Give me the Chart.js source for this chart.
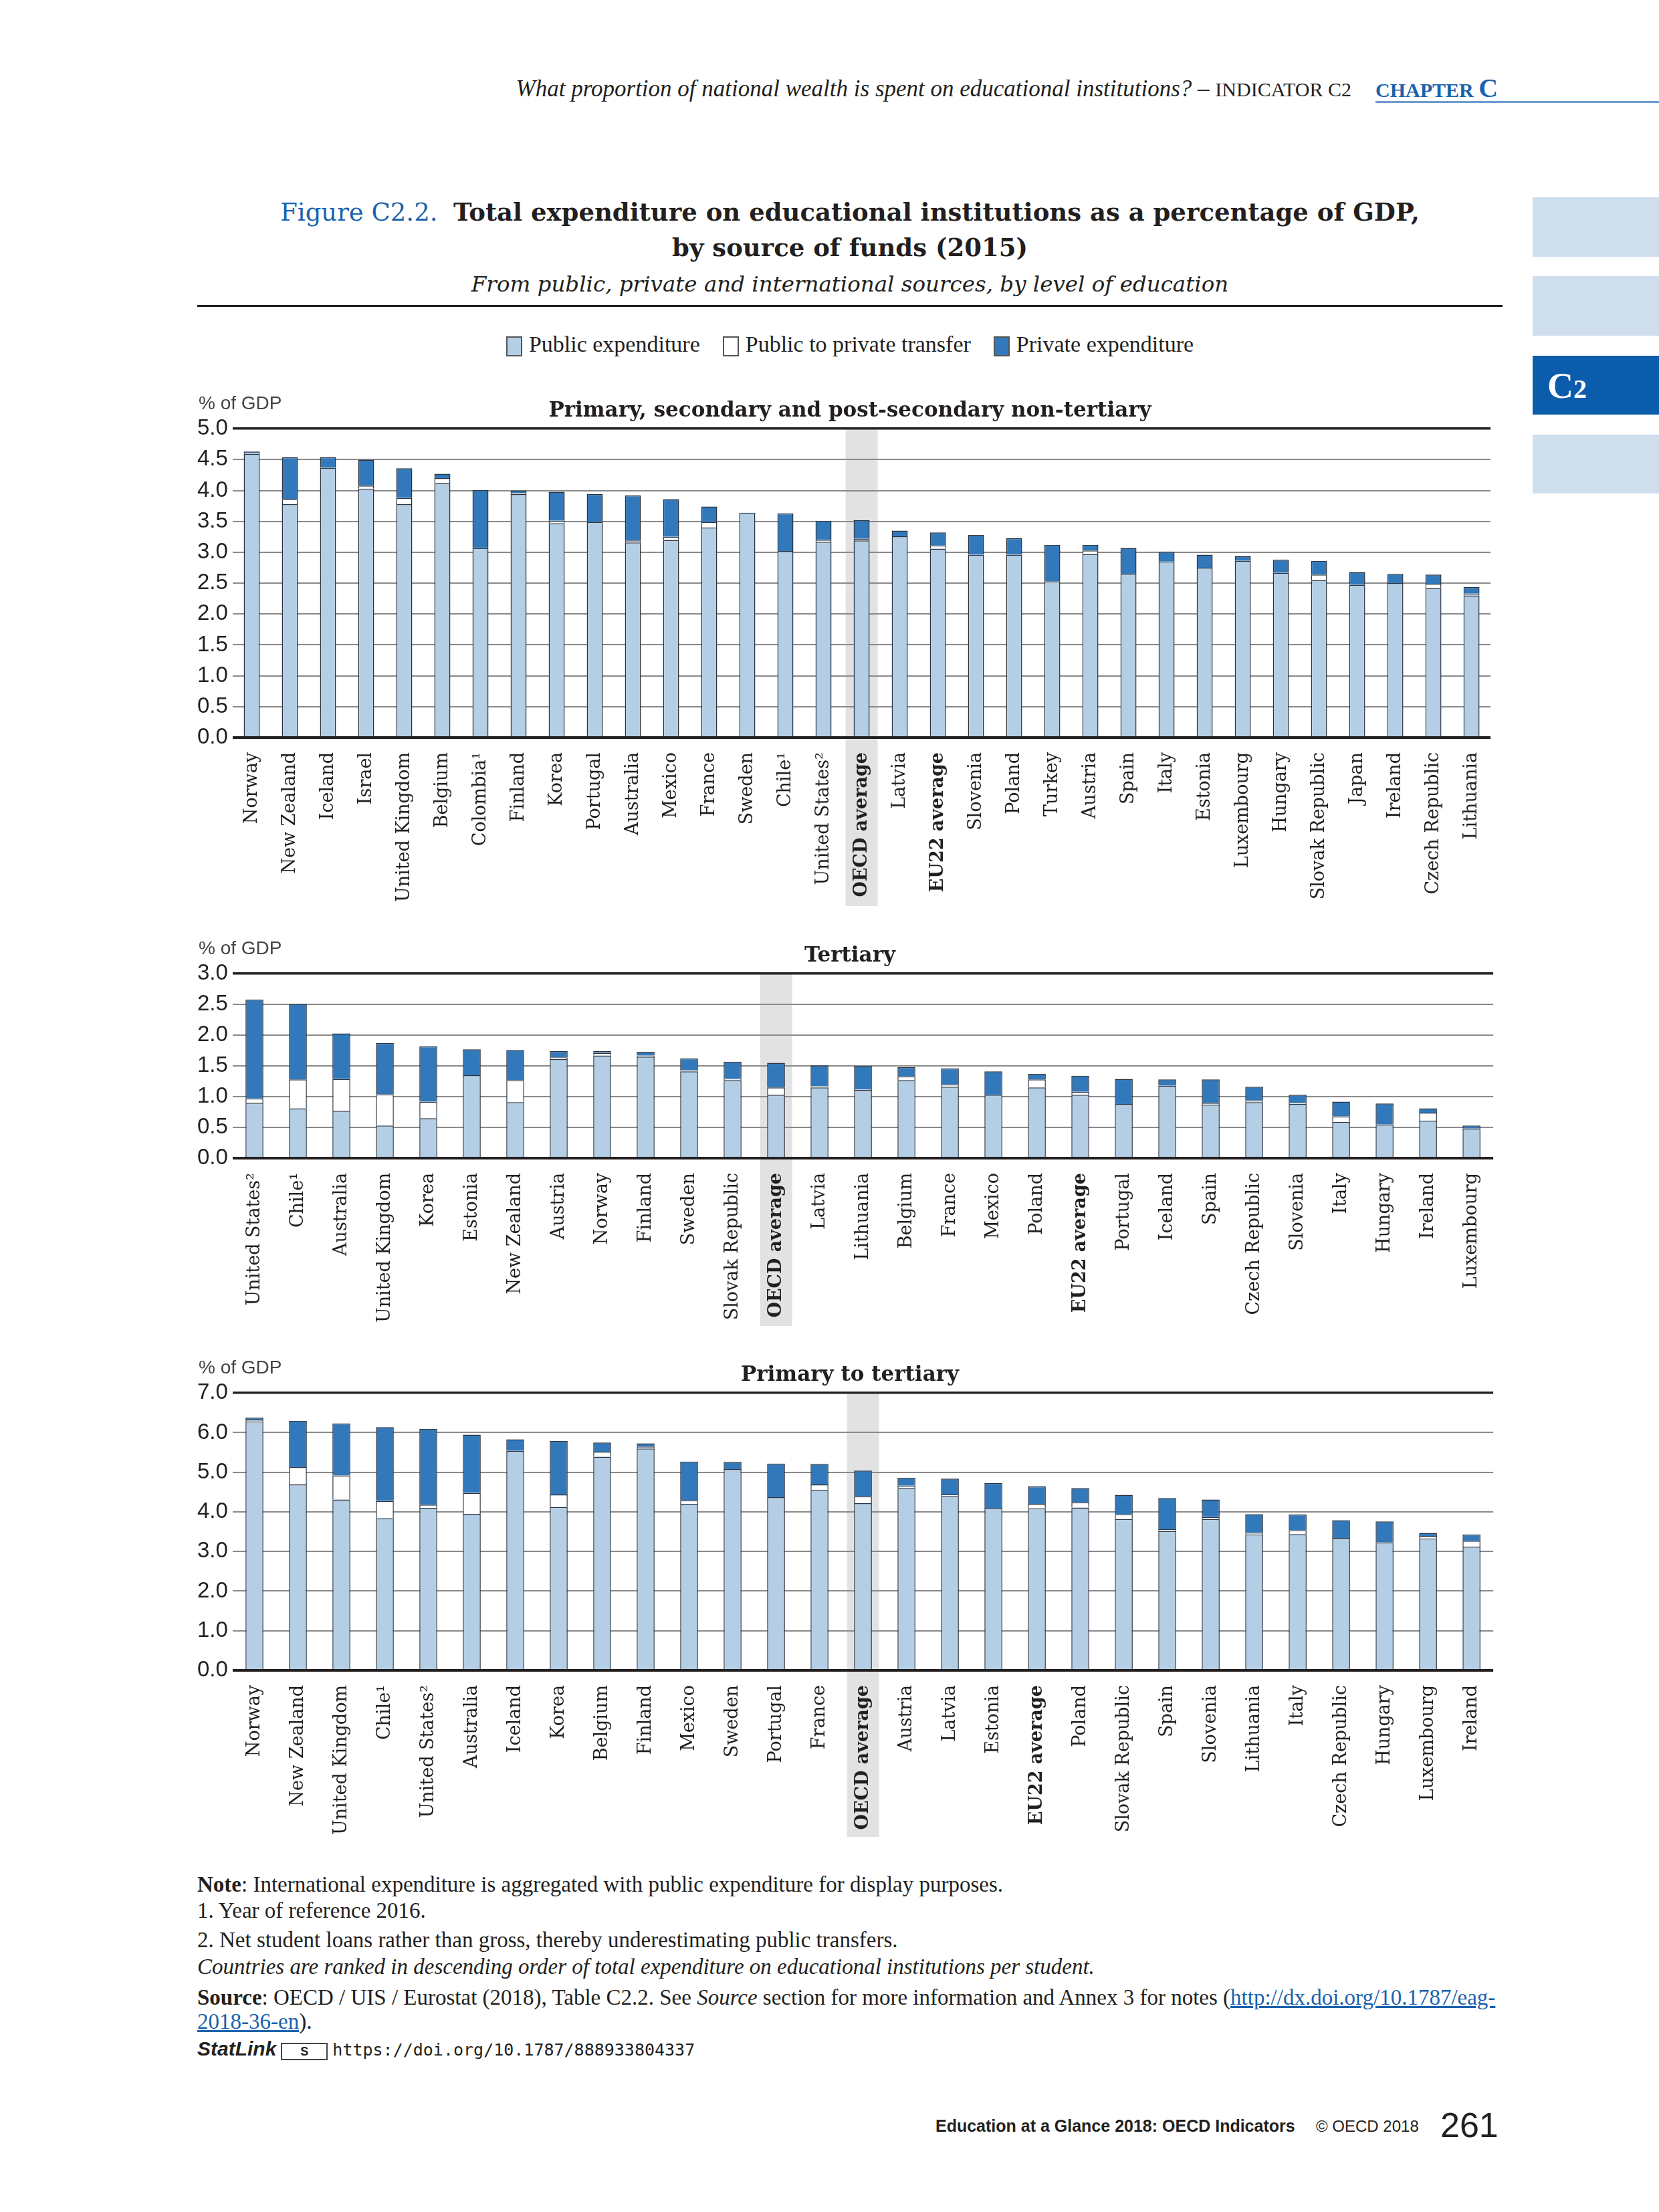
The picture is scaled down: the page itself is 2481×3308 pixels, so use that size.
<!DOCTYPE html>
<html>
<head>
<meta charset="utf-8">
<script src="https://cdn.jsdelivr.net/npm/chart.js@4.4.1/dist/chart.umd.min.js"></script>
<style>
  body { margin: 0; width: 2481px; height: 3308px; position: relative; background: #fff; color: #231f20; font-family: 'Liberation Serif', serif; overflow: hidden; }
  .abs { position: absolute; }
  .tab { position: absolute; left: 2292px; width: 189px; background: #cfdeed; }
  .chartBox { position: absolute; left: 295px; width: 1952px; }
  .note { position: absolute; left: 295px; font-size: 33px; line-height: 36px; white-space: nowrap; }
  .sw { display: inline-block; width: 20px; height: 26px; border: 2px solid #555; vertical-align: middle; margin-right: 10px; }
</style>
</head>
<body>

<!-- page header -->
<div class="abs" style="right:460px; top:113px; font-size:35px; white-space:nowrap;">
  <i>What proportion of national wealth is spent on educational institutions?</i> – <span style="font-size:30px;">INDICATOR C2</span>
</div>
<div class="abs" style="left:2057px; top:108px; font-size:30px; font-weight:bold; color:#1a62ad; white-space:nowrap;">CHAPTER <span style="font-size:40px;">C</span></div>
<div class="abs" style="left:2057px; top:151px; width:424px; height:3px; background:#6f9dcf;"></div>

<!-- side tabs -->
<div class="tab" style="top:295px; height:89px;"></div>
<div class="tab" style="top:413px; height:89px;"></div>
<div class="tab" style="top:532px; height:88px; background:#0b5cab;">
  <span class="abs" style="left:22px; top:14px; color:#fff; font-weight:bold; font-size:54px;">C<span style="font-size:40px;">2</span></span>
</div>
<div class="tab" style="top:650px; height:88px;"></div>

<!-- figure title -->
<div class="abs" style="left:295px; width:1952px; top:291px; text-align:center; font-family:'DejaVu Serif', serif; font-size:37px; line-height:53px; white-space:nowrap;">
  <span style="color:#1a62ad;">Figure C2.2.</span>&nbsp; <b>Total expenditure on educational institutions as a percentage of GDP,</b><br>
  <b>by source of funds (2015)</b>
</div>
<div class="abs" style="left:295px; width:1952px; top:406px; text-align:center; font-family:'DejaVu Serif', serif; font-size:32.5px; font-style:italic;">From public, private and international sources, by level of education</div>
<div class="abs" style="left:295px; top:456px; width:1952px; height:3px; background:#231f20;"></div>

<!-- legend -->
<div class="abs" style="left:295px; width:1952px; top:496px; text-align:center; font-size:34px; white-space:nowrap;">
  <span class="sw" style="background:#b4cfe5;"></span>Public expenditure&nbsp;&nbsp;&nbsp;
  <span class="sw" style="background:#fff;"></span>Public to private transfer&nbsp;&nbsp;&nbsp;
  <span class="sw" style="background:#3279bb;"></span>Private expenditure
</div>

<div class="chartBox" style="top:590px; height:765px;"><canvas id="chart1"></canvas></div>
<div class="chartBox" style="top:1405px; height:578px;"><canvas id="chart2"></canvas></div>
<div class="chartBox" style="top:2032px; height:715px;"><canvas id="chart3"></canvas></div>

<!-- notes -->
<div class="note" style="top:2800px;"><b>Note</b>: International expenditure is aggregated with public expenditure for display purposes.</div>
<div class="note" style="top:2839px;">1. Year of reference 2016.</div>
<div class="note" style="top:2883px;">2. Net student loans rather than gross, thereby underestimating public transfers.</div>
<div class="note" style="top:2923px; font-style:italic;">Countries are ranked in descending order of total expenditure on educational institutions per student.</div>
<div class="note" style="top:2969px;"><b>Source</b>: OECD / UIS / Eurostat (2018), Table C2.2. See <i>Source</i> section for more information and Annex 3 for notes (<span style="color:#1a62ad; text-decoration:underline;">http://dx.doi.org/10.1787/eag-</span></div>
<div class="note" style="top:3005px;"><span style="color:#1a62ad; text-decoration:underline;">2018-36-en</span>).</div>
<div class="note" style="top:3046px; font-size:28px;"><b style="font-family:'Liberation Sans',sans-serif; font-style:italic; font-size:30px;">StatLink</b>
  <span style="display:inline-block; width:66px; height:22px; border:2px solid #444; font:bold 18px 'Liberation Sans',sans-serif; text-align:center; line-height:22px; vertical-align:middle;">S</span>
  <span style="font-family:'DejaVu Sans Mono',monospace; font-size:25px;">https://doi.org/10.1787/888933804337</span></div>

<!-- page footer -->
<div class="abs" style="left:1399px; top:3165px; font-family:'Liberation Sans',sans-serif; font-weight:bold; font-size:25px; white-space:nowrap;">Education at a Glance 2018: OECD Indicators</div>
<div class="abs" style="left:1968px; top:3166px; font-family:'Liberation Sans',sans-serif; font-size:24px; white-space:nowrap;">© OECD 2018</div>
<div class="abs" style="left:2154px; top:3148px; font-family:'Liberation Sans',sans-serif; font-size:52px; white-space:nowrap;">261</div>

<script>
// Primary, secondary and post-secondary non-tertiary
const c1Labels = ['Norway', 'New Zealand', 'Iceland', 'Israel', 'United Kingdom', 'Belgium', 'Colombia¹', 'Finland', 'Korea', 'Portugal',
    'Australia', 'Mexico', 'France', 'Sweden', 'Chile¹', 'United States²', 'OECD average', 'Latvia', 'EU22 average', 'Slovenia',
    'Poland', 'Turkey', 'Austria', 'Spain', 'Italy', 'Estonia', 'Luxembourg', 'Hungary', 'Slovak Republic', 'Japan',
    'Ireland', 'Czech Republic', 'Lithuania'];
const c1Public = [4.59, 3.78, 4.37, 4.03, 3.78, 4.12, 3.07, 3.94, 3.47, 3.49, 3.16, 3.20, 3.40, 3.64, 3.02, 3.17, 3.19, 3.26, 3.06, 2.96,
    2.96, 2.53, 2.97, 2.65, 2.85, 2.75, 2.86, 2.67, 2.55, 2.47, 2.50, 2.42, 2.30];
const c1Transfer = [0.01, 0.08, 0, 0.05, 0.10, 0.08, 0, 0.02, 0.04, 0, 0.03, 0.05, 0.09, 0, 0, 0.03, 0.03, 0, 0.05, 0,
    0, 0, 0.06, 0, 0, 0, 0, 0, 0.09, 0, 0, 0.07, 0.03];
const c1Private = [0.03, 0.68, 0.17, 0.42, 0.48, 0.07, 0.94, 0.04, 0.47, 0.45, 0.73, 0.61, 0.25, 0, 0.61, 0.31, 0.30, 0.09, 0.21, 0.32,
    0.27, 0.59, 0.09, 0.42, 0.16, 0.21, 0.08, 0.21, 0.22, 0.21, 0.15, 0.15, 0.11];

// Tertiary
const c2Labels = ['United States²', 'Chile¹', 'Australia', 'United Kingdom', 'Korea', 'Estonia', 'New Zealand', 'Austria', 'Norway', 'Finland',
    'Sweden', 'Slovak Republic', 'OECD average', 'Latvia', 'Lithuania', 'Belgium', 'France', 'Mexico', 'Poland', 'EU22 average',
    'Portugal', 'Iceland', 'Spain', 'Czech Republic', 'Slovenia', 'Italy', 'Hungary', 'Ireland', 'Luxembourg'];
const c2Public = [0.90, 0.81, 0.77, 0.53, 0.65, 1.35, 0.91, 1.61, 1.67, 1.65, 1.41, 1.27, 1.03, 1.15, 1.11, 1.27, 1.16, 1.03, 1.15, 1.03,
    0.88, 1.18, 0.87, 0.91, 0.88, 0.59, 0.55, 0.61, 0.48];
const c2Transfer = [0.07, 0.47, 0.52, 0.51, 0.27, 0, 0.36, 0.03, 0.04, 0.02, 0.02, 0.02, 0.12, 0.02, 0.01, 0.06, 0.04, 0, 0.13, 0.05,
    0, 0, 0.03, 0.03, 0.02, 0.09, 0, 0.13, 0];
const c2Private = [1.61, 1.23, 0.74, 0.83, 0.90, 0.42, 0.49, 0.10, 0.03, 0.06, 0.19, 0.28, 0.40, 0.34, 0.38, 0.15, 0.26, 0.38, 0.09, 0.26,
    0.41, 0.10, 0.38, 0.22, 0.13, 0.24, 0.34, 0.07, 0.05];

// Primary to tertiary
const c3Labels = ['Norway', 'New Zealand', 'United Kingdom', 'Chile¹', 'United States²', 'Australia', 'Iceland', 'Korea', 'Belgium', 'Finland',
    'Mexico', 'Sweden', 'Portugal', 'France', 'OECD average', 'Austria', 'Latvia', 'Estonia', 'EU22 average', 'Poland',
    'Slovak Republic', 'Spain', 'Slovenia', 'Lithuania', 'Italy', 'Czech Republic', 'Hungary', 'Luxembourg', 'Ireland'];
const c3Public = [6.28, 4.69, 4.31, 3.84, 4.10, 3.95, 5.54, 4.12, 5.39, 5.60, 4.20, 5.08, 4.37, 4.56, 4.22, 4.60, 4.40, 4.10, 4.09, 4.11,
    3.82, 3.52, 3.82, 3.43, 3.44, 3.34, 3.23, 3.33, 3.12];
const c3Transfer = [0.05, 0.44, 0.61, 0.44, 0.08, 0.53, 0, 0.32, 0.13, 0.05, 0.09, 0, 0, 0.13, 0.17, 0.06, 0.04, 0, 0.11, 0.13,
    0.12, 0.04, 0.05, 0.04, 0.10, 0, 0, 0.06, 0.15];
const c3Private = [0.05, 1.17, 1.31, 1.86, 1.91, 1.47, 0.29, 1.35, 0.23, 0.08, 0.98, 0.18, 0.85, 0.52, 0.65, 0.20, 0.40, 0.63, 0.44, 0.36,
    0.49, 0.79, 0.44, 0.47, 0.39, 0.45, 0.53, 0.08, 0.16];

// y axis ranges
const c1Axis = [0, 5, 0.5];
const c2Axis = [0, 3, 0.5];
const c3Axis = [0, 7, 1];

const serif = "'DejaVu Serif', serif";
const narrow = "'Liberation Sans Narrow', 'Liberation Sans', sans-serif";

// "% of GDP" above the axis
const unitLabel = {
    id: 'unitLabel',
    afterDraw(chart) {
        const ctx = chart.ctx;
        ctx.save();
        ctx.font = '28px ' + narrow;
        ctx.fillStyle = '#444';
        ctx.textBaseline = 'middle';
        ctx.fillText('% of GDP', 2, chart.chartArea.top - 37);
        ctx.restore();
    }
};

// grey band behind the OECD average + dark zero line
const oecdShade = {
    id: 'oecdShade',
    beforeDraw(chart) {
        const idx = chart.data.labels.indexOf('OECD average');
        const cx = chart.scales.x.getPixelForValue(idx);
        const ctx = chart.ctx;
        ctx.save();
        ctx.fillStyle = '#e2e2e2';
        ctx.fillRect(cx - 24, chart.chartArea.top, 48, chart.height - chart.chartArea.top);
        ctx.restore();
    },
    afterDatasetsDraw(chart) {
        const y = chart.scales.y.getPixelForValue(0);
        const ctx = chart.ctx;
        ctx.save();
        ctx.strokeStyle = '#231f20';
        ctx.lineWidth = 4;
        ctx.beginPath();
        ctx.moveTo(chart.chartArea.left, y);
        ctx.lineTo(chart.chartArea.right, y);
        ctx.stroke();
        ctx.restore();
    }
};

function drawChart(id, title, labels, pub, transfer, priv, axis, barPct, labelHeight) {
    const seg = { borderColor: '#2a3440', borderWidth: 1.5, barPercentage: barPct, categoryPercentage: 1 };
    new Chart(document.getElementById(id), {
        type: 'bar',
        data: {
            labels: labels,
            datasets: [
                Object.assign({ label: 'Public expenditure', data: pub, backgroundColor: '#b4cfe5' }, seg),
                Object.assign({ label: 'Public to private transfer', data: transfer, backgroundColor: '#ffffff' }, seg),
                Object.assign({ label: 'Private expenditure', data: priv, backgroundColor: '#3279bb' }, seg)
            ]
        },
        plugins: [unitLabel, oecdShade],
        options: {
            responsive: true,
            maintainAspectRatio: false,
            animation: false,
            layout: { padding: 0 },
            plugins: {
                legend: { display: false },
                tooltip: { enabled: false },
                title: {
                    display: true,
                    text: title,
                    color: '#231f20',
                    font: { family: serif, size: 31, weight: 'bold' },
                    padding: { top: 6, bottom: 8 }
                }
            },
            scales: {
                x: {
                    stacked: true,
                    grid: { display: false },
                    border: { display: false },
                    afterFit: function (scale) { scale.height = labelHeight; },
                    ticks: {
                        autoSkip: false,
                        minRotation: 90,
                        maxRotation: 90,
                        padding: 14,
                        color: '#231f20',
                        font: function (c) {
                            const lab = labels[c.index] || '';
                            return { family: serif, size: 27, weight: lab.indexOf('average') >= 0 ? 'bold' : 'normal' };
                        }
                    }
                },
                y: {
                    stacked: true,
                    min: axis[0],
                    max: axis[1],
                    afterFit: function (scale) { scale.width = 53; },
                    border: { display: false },
                    grid: {
                        drawTicks: false,
                        color: function (c) {
                            if (!c.tick) return '#8a8a8a';
                            if (c.tick.value === axis[1]) return '#231f20';
                            if (c.tick.value === 0) return 'rgba(0,0,0,0)';
                            return '#8a8a8a';
                        },
                        lineWidth: function (c) {
                            return c.tick && c.tick.value === axis[1] ? 3.5 : 2;
                        }
                    },
                    ticks: {
                        stepSize: axis[2],
                        crossAlign: 'far',
                        color: '#231f20',
                        font: { family: narrow, size: 33 },
                        callback: function (v) { return Number(v).toFixed(1); }
                    }
                }
            }
        }
    });
}

drawChart('chart1', 'Primary, secondary and post-secondary non-tertiary', c1Labels, c1Public, c1Transfer, c1Private, c1Axis, 0.42, 252);
drawChart('chart2', 'Tertiary', c2Labels, c2Public, c2Transfer, c2Private, c2Axis, 0.41, 251);
drawChart('chart3', 'Primary to tertiary', c3Labels, c3Public, c3Transfer, c3Private, c3Axis, 0.41, 249);
</script>
</body>
</html>
